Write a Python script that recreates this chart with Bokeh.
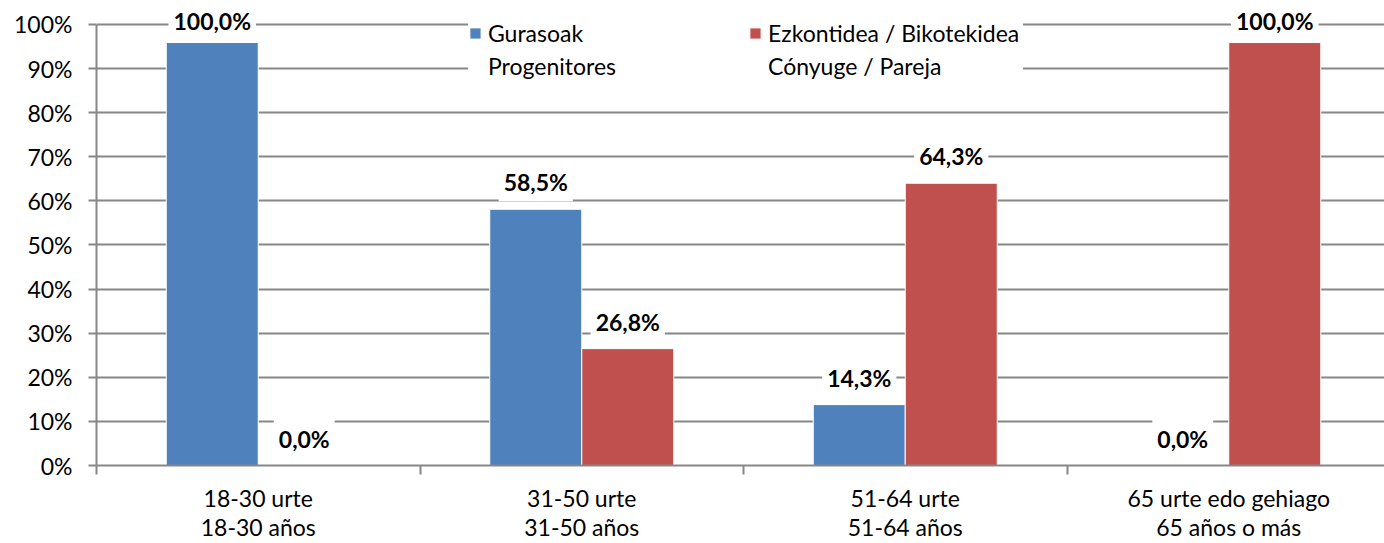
from bokeh.plotting import figure
from bokeh.models import (ColumnDataSource, Range1d, FixedTicker, Legend, LegendItem,
                          PrintfTickFormatter)
from bokeh.transform import dodge
from bokeh.core.properties import value
from bokeh.embed import file_html
from bokeh.resources import INLINE

categories = ["18-30 urte\n18-30 años", "31-50 urte\n31-50 años",
              "51-64 urte\n51-64 años", "65 urte edo gehiago\n65 años o más"]
series_line1 = ["Gurasoak", "Ezkontidea / Bikotekidea"]
series_line2 = ["Progenitores", "Cónyuge / Pareja"]
gurasoak = [95.9, 58.1, 13.8, 0.0]
ezkontidea = [0.0, 26.5, 64.0, 95.9]
gurasoak_labels = ["100,0%", "58,5%", "14,3%", "0,0%"]
ezkontidea_labels = ["0,0%", "26,8%", "64,3%", "100,0%"]
y_ticks = [0, 10, 20, 30, 40, 50, 60, 70, 80, 90, 100]

FONT = "Lato"
FS = "23px"
GRID = "#878787"
BLUE = "#4F81BD"
RED = "#C0504D"
LABEL_CAP = 94.6  # data labels are kept inside the plot area

PX_PER_UNIT = 4.42
pos = [i + 0.5 for i in range(len(categories))]
src = ColumnDataSource(dict(x=pos, g=gurasoak, e=ezkontidea,
                            gy=[min(v, LABEL_CAP) for v in gurasoak],
                            ey=[min(v, LABEL_CAP) for v in ezkontidea],
                            gl=gurasoak_labels, el=ezkontidea_labels))

p = figure(width=1384, height=543, output_backend="svg", toolbar_location=None,
           x_range=Range1d(0, 1288 / 323.5), y_range=Range1d(0, 100 + 20 / PX_PER_UNIT),
           min_border_left=96, min_border_right=0, min_border_top=4, min_border_bottom=77)
p.outline_line_color = None
p.background_fill_color = "white"

BW = 92 / 323.5
rb = p.vbar(x=dodge("x", -BW / 2), top="g", width=BW, source=src,
            fill_color=BLUE, line_color="white", line_width=1)
rr = p.vbar(x=dodge("x", BW / 2), top="e", width=BW, source=src,
            fill_color=RED, line_color="white", line_width=1)

# x axis
xa = p.xaxis[0]
xa.ticker = FixedTicker(ticks=pos, minor_ticks=[0, 1, 2, 3, 4])
xa.major_label_overrides = {x: c for x, c in zip(pos, categories)}
xa.major_tick_out = 0
xa.major_tick_in = 0
xa.minor_tick_out = 9
xa.minor_tick_in = 0
xa.minor_tick_line_color = GRID
xa.minor_tick_line_width = 2
xa.axis_line_color = GRID
xa.axis_line_width = 2
xa.major_label_text_font = FONT
xa.major_label_text_font_size = FS
xa.major_label_text_color = "black"
xa.major_label_standoff = 9
xa.major_label_text_line_height = 1.05
p.xgrid.visible = False

# y axis
ya = p.yaxis[0]
ya.ticker = FixedTicker(ticks=y_ticks)
ya.bounds = (0, 100)
ya.formatter = PrintfTickFormatter(format="%d%%")
ya.major_tick_out = 8
ya.major_tick_in = 0
ya.minor_tick_out = 0
ya.minor_tick_in = 0
ya.major_tick_line_color = GRID
ya.major_tick_line_width = 2
ya.axis_line_color = GRID
ya.axis_line_width = 2
ya.major_label_text_font = FONT
ya.major_label_text_font_size = FS
ya.major_label_text_color = "black"
ya.major_label_standoff = 16
p.ygrid.ticker = FixedTicker(ticks=y_ticks)
p.ygrid.grid_line_color = GRID
p.ygrid.grid_line_width = 2

# data labels (text glyphs with white boxes that hide the gridlines)
for xoff, col, lab in [(-BW / 2, "gy", "gl"), (BW / 2, "ey", "el")]:
    p.text(x=dodge("x", xoff), y=col, text=lab, source=src,
           y_offset=-27, text_align="center", text_baseline="alphabetic",
           text_font=value(FONT), text_font_style="bold",
           text_font_size=FS, text_color="black",
           background_fill_color="white", padding=5)

legend = Legend(items=[LegendItem(label=value(series_line1[0]), renderers=[rb]),
                       LegendItem(label=value(series_line1[1]), renderers=[rr]),
                       LegendItem(label=value(series_line2[0]), renderers=[]),
                       LegendItem(label=value(series_line2[1]), renderers=[])],
                orientation="horizontal", ncols=2, location=(372, 385),
                glyph_width=14, glyph_height=14, label_standoff=6,
                label_width=255, spacing=5, padding=0, margin=0,
                label_text_font=FONT, label_text_font_size=FS,
                label_text_color="black",
                border_line_color=None, background_fill_color="white",
                background_fill_alpha=1.0)
p.add_layout(legend)

open("out.html", "w").write(file_html(p, INLINE))
